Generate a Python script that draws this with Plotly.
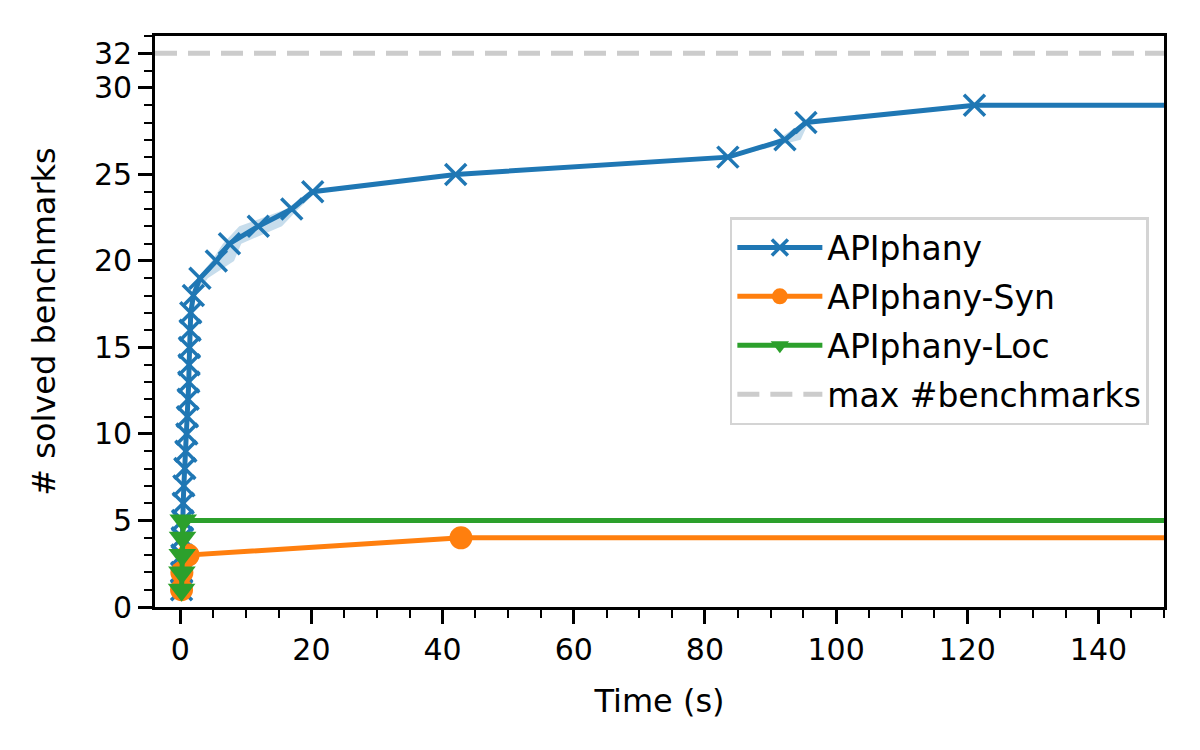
import plotly.graph_objects as go

# cumulative number of solved benchmarks against time (s)
apiphany_time = [0.2, 0.22, 0.25, 0.3, 0.35, 0.45, 0.55, 0.7, 0.85, 1.0, 1.1, 1.2, 1.3, 1.35, 1.4,
                 1.5, 1.6, 2.0, 3.0, 5.5, 7.5, 11.9, 17.0, 20.2, 42.0, 83.5, 92.2, 95.4, 121.1]
apiphany_solved = list(range(1, 30))
# spread over runs, drawn as the shaded band
apiphany_lo = [0.2, 0.22, 0.25, 0.3, 0.35, 0.45, 0.55, 0.7, 0.85, 1.0, 1.1, 1.2, 1.3, 1.35, 1.4,
               1.5, 1.6, 1.8, 2.6, 4.8, 6.5, 9.0, 16.2, 19.6, 41.5, 83.0, 91.0, 95.0, 120.6]
apiphany_hi = [0.2, 0.22, 0.25, 0.3, 0.35, 0.45, 0.55, 0.7, 0.85, 1.0, 1.1, 1.2, 1.3, 1.35, 1.4,
               1.5, 1.6, 2.4, 4.2, 8.2, 9.3, 15.5, 18.0, 20.8, 42.5, 84.0, 94.6, 95.8, 121.6]

syn_time = [0.2, 0.25, 1.2, 42.8]
syn_solved = [1, 2, 3, 4]

loc_time = [0.2, 0.25, 0.3, 0.35, 0.45]
loc_solved = [1, 2, 3, 4, 5]

timeout = 600
max_benchmarks = 32
x_range = [-3.85, 150]
y_range = [0, 33]
y_ticks = [0, 5, 10, 15, 20, 25, 30, 32]

blue = '#1f77b4'
orange = '#ff7f0e'
green = '#2ca02c'

fig = go.Figure()

# band: lo going up, hi coming back down
fig.add_trace(go.Scatter(
    x=apiphany_lo + apiphany_hi[::-1],
    y=apiphany_solved + apiphany_solved[::-1],
    fill='toself', fillcolor='rgba(31,119,180,0.25)',
    line=dict(width=0), mode='lines', hoverinfo='skip', showlegend=False,
))

fig.add_trace(go.Scatter(
    x=apiphany_time + [timeout], y=apiphany_solved + [apiphany_solved[-1]],
    name='APIphany', mode='lines+markers', legendgroup='a',
    line=dict(color=blue, width=5),
    marker=dict(symbol='x-thin', size=21, color=blue, line=dict(width=3.5, color=blue)),
))
fig.add_trace(go.Scatter(
    x=syn_time + [timeout], y=syn_solved + [syn_solved[-1]],
    name='APIphany-Syn', mode='lines+markers', legendgroup='s',
    line=dict(color=orange, width=5),
    marker=dict(symbol='circle', size=23, color=orange),
))
fig.add_trace(go.Scatter(
    x=loc_time + [timeout], y=loc_solved + [loc_solved[-1]],
    name='APIphany-Loc', mode='lines+markers', legendgroup='l',
    line=dict(color=green, width=5),
    marker=dict(symbol='triangle-down', size=24, color=green),
))
fig.add_trace(go.Scatter(
    x=x_range, y=[max_benchmarks, max_benchmarks],
    name='max #benchmarks', mode='lines', legendgroup='m',
    line=dict(color='#cccccc', width=5, dash='22px,11px'),
))

axis_common = dict(
    showline=True, linecolor='black', linewidth=2.7, mirror=True,
    showgrid=False, zeroline=False,
    ticks='outside', ticklen=14, tickwidth=2.7, tickcolor='black',
    tickfont=dict(size=30, color='black'),
)

fig.update_layout(
    width=1200, height=750,
    paper_bgcolor='white', plot_bgcolor='white',
    font=dict(family='DejaVu Sans', color='black'),
    margin=dict(l=147, r=44, t=28, b=151),
    xaxis=dict(
        range=x_range, dtick=20, tick0=0,
        minor=dict(dtick=5, tick0=0, ticks='outside', ticklen=8, tickwidth=2.2, tickcolor='black'),
        title=dict(text='Time (s)', font=dict(size=32), standoff=24),
        **axis_common,
    ),
    yaxis=dict(
        range=y_range, tickmode='array', tickvals=y_ticks,
        minor=dict(dtick=1, tick0=0, ticks='outside', ticklen=8, tickwidth=2.2, tickcolor='black'),
        title=dict(text='# solved benchmarks', font=dict(size=32), standoff=29),
        **axis_common,
    ),
    legend=dict(
        x=0.985, y=0.683, xanchor='right', yanchor='top',
        bgcolor='rgba(255,255,255,0.8)', bordercolor='#d4d4d4', borderwidth=2.5,
        font=dict(size=33, color='black'), itemwidth=85, tracegroupgap=3,
    ),
    showlegend=True,
)

fig.write_html("out.html")
